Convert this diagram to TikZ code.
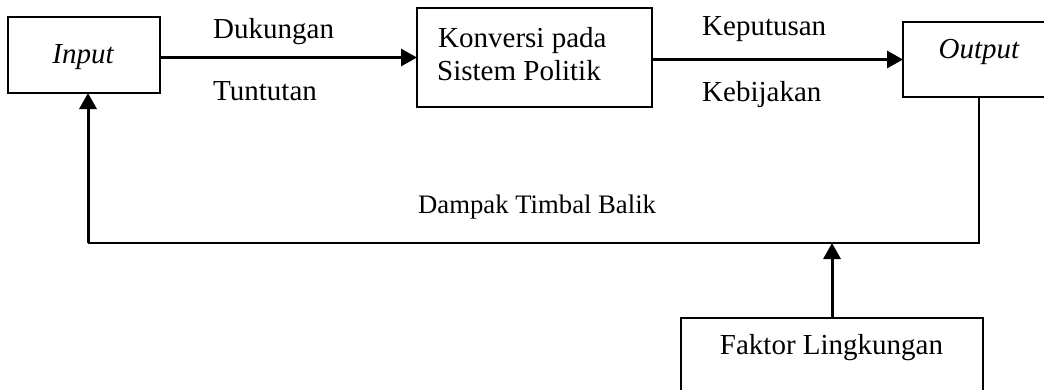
\documentclass[tikz,border=0pt]{standalone}
\usepackage{fontspec}
\setmainfont{Liberation Serif}
\usetikzlibrary{arrows.meta}
\begin{document}
\begin{tikzpicture}[x=1pt,y=-1pt,
  font=\fontsize{29}{33}\selectfont,
  box/.style={draw, line width=1.3pt, inner sep=0pt, outer sep=0pt},
  thickarrow/.style={line width=3pt, -{Triangle[length=16pt,width=17pt]}},
  thinline/.style={line width=1.3pt},
  lbl/.style={inner sep=0pt, anchor=base west}]
\useasboundingbox (0,0) rectangle (1044,389);
\clip (0,0) rectangle (1044,389);
% boxes
\node[box, minimum width=152pt, minimum height=76pt] (input) at (84,55) {};
\node[box, minimum width=235pt, minimum height=99pt] (conv) at (534.5,57.5) {};
\node[box, minimum width=157pt, minimum height=75pt] (out) at (981.5,59.5) {};
\node[box, minimum width=302pt, minimum height=102pt] (faktor) at (832,369) {};
% box texts
\node[inner sep=0pt, anchor=base] (inputtext) at (83,63) {\itshape Input};
\node[lbl] (conv1) at (438,47) {Konversi pada};
\node[lbl] (conv2) at (437,80) {Sistem Politik};
\node[inner sep=0pt, anchor=base] (outtext) at (979,58) {\itshape Output};
\node[inner sep=0pt, anchor=base] (faktortext) at (831.5,354) {Faktor Lingkungan};
% arrow labels
\node[lbl] (dukungan) at (213,38) {Dukungan};
\node[lbl] (tuntutan) at (213,100) {Tuntutan};
\node[lbl] (keputusan) at (702,35) {Keputusan};
\node[lbl] (kebijakan) at (702,101) {Kebijakan};
\node[lbl, font=\fontsize{26.7}{30}\selectfont] (dampak) at (418,213) {Dampak Timbal Balik};
% connectors
\draw[thickarrow] (input.east |- conv.west) -- (conv.west);
\draw[thickarrow] (conv.east |- out.west) -- (out.west);
\coordinate (outbot) at (979,97);
\coordinate (fbR) at (979,243);
\coordinate (fbL) at (88,243);
\draw[thinline] (outbot) -- (fbR) -- (fbL);
\draw[thickarrow] (fbL) -- (fbL |- input.south);
\draw[thickarrow] (faktor.north) -- (faktor.north |- fbR);
\end{tikzpicture}
\end{document}
